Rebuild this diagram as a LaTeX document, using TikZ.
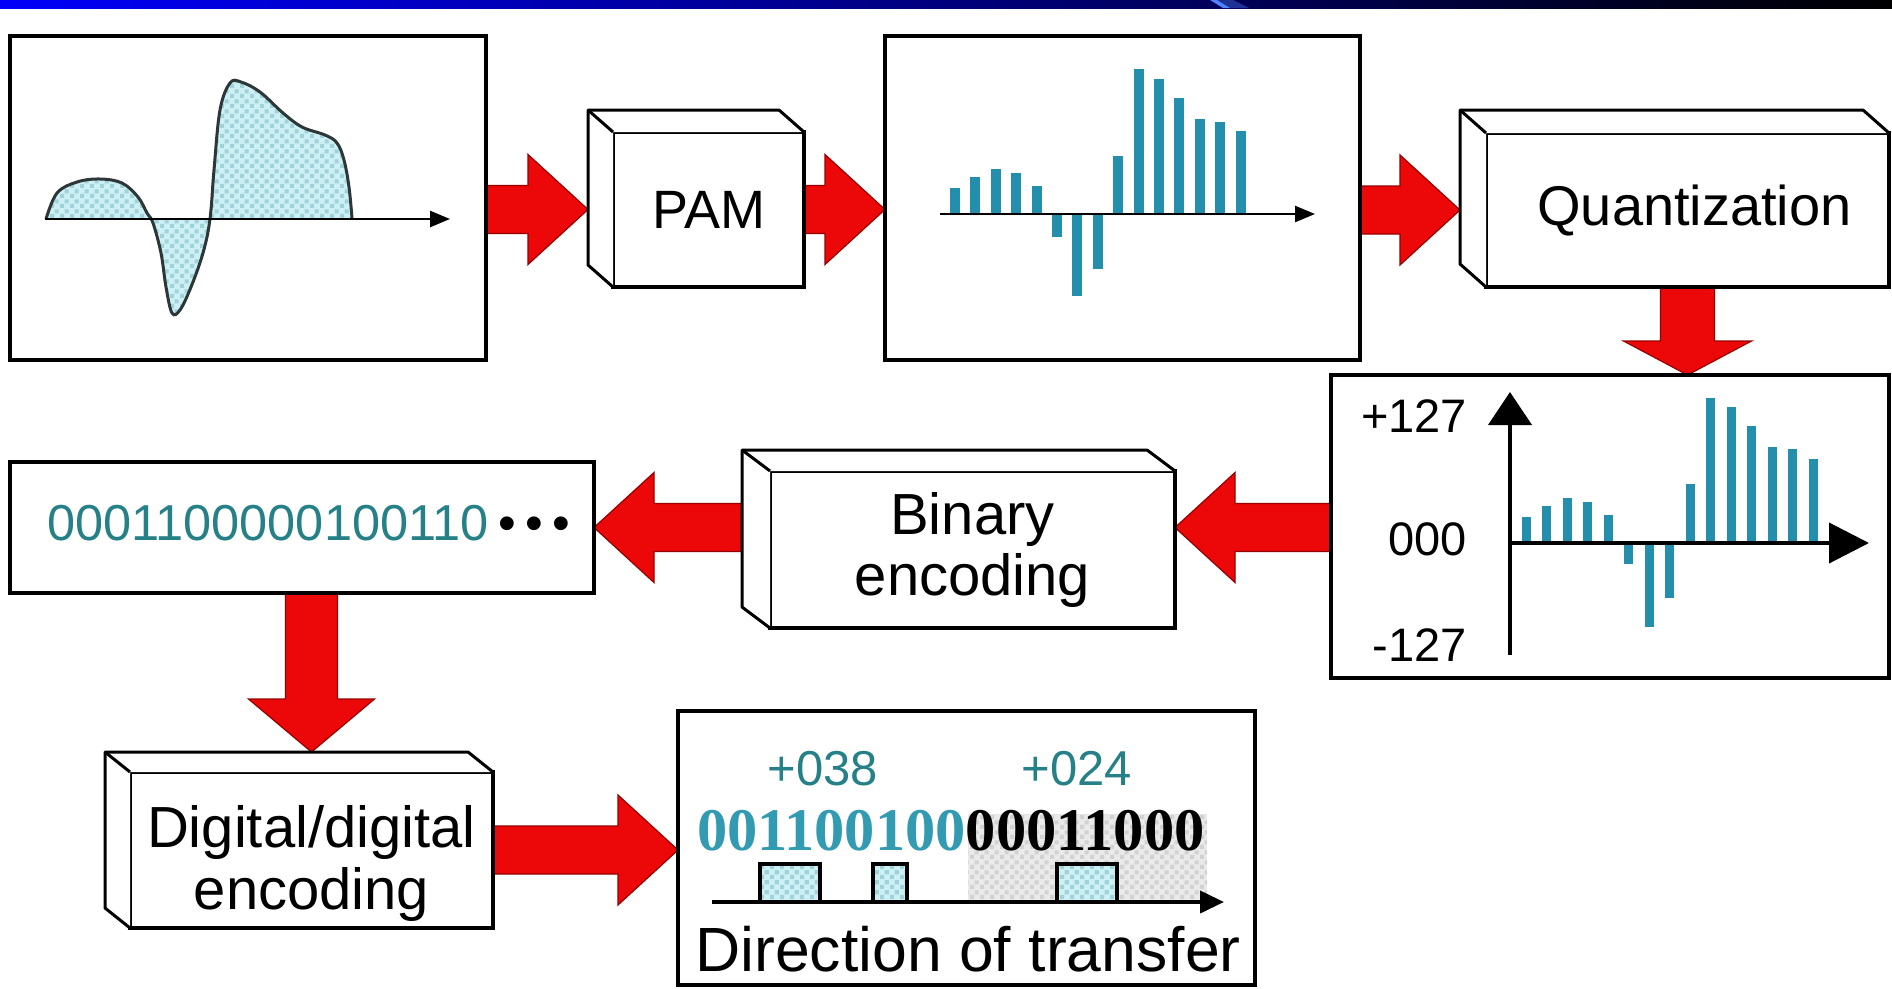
\documentclass[tikz,border=0pt]{standalone}
\usepackage{fontspec}
\setmainfont{Liberation Sans}
\newfontfamily\serifbold{Liberation Serif}
\usetikzlibrary{calc,patterns.meta,arrows.meta}

\definecolor{arrred}{RGB}{236,8,8}
\definecolor{arredge}{RGB}{150,0,0}
\definecolor{tealtxt}{RGB}{38,128,135}
\definecolor{barcol}{RGB}{35,143,172}
\definecolor{cyanlite}{RGB}{205,240,245}
\definecolor{cyandot}{RGB}{160,210,218}
\definecolor{graylite}{RGB}{234,234,234}
\definecolor{graydot}{RGB}{210,210,210}
\definecolor{bitteal}{RGB}{50,155,178}
\definecolor{wavecol}{RGB}{45,55,55}
\definecolor{barblue}{RGB}{0,0,250}
\definecolor{barmid}{RGB}{0,0,165}
\definecolor{streak}{RGB}{80,130,255}
\definecolor{streakdk}{RGB}{30,50,150}

\pgfdeclarelayer{bg}
\pgfsetlayers{bg,main}

\tikzdeclarepattern{
  name=chk,
  type=uncolored,
  bottom left={(0pt,0pt)},
  top right={(10pt,10pt)},
  tile size={(10pt,10pt)},
  code={
    \pgfpathrectangle{\pgfpointorigin}{\pgfpoint{4.5pt}{4.5pt}}
    \pgfpathrectangle{\pgfpoint{5pt}{5pt}}{\pgfpoint{4.5pt}{4.5pt}}
    \pgfusepath{fill}
  }
}

% horizontal block arrow: #1 start, #2 tip, #3 direction (1 right, -1 left)
\newcommand\sidearr[3]{%
  \path[redarrow] let \p1=#1, \p2=#2 in
    (\x1,\y2+24pt) -- ({\x2-(#3)*60pt},\y2+24pt) -- ({\x2-(#3)*60pt},\y2+55pt)
    -- (\x2,\y2) -- ({\x2-(#3)*60pt},\y2-55pt) -- ({\x2-(#3)*60pt},\y2-24pt)
    -- (\x1,\y2-24pt) -- cycle;}
% downward block arrow: #1 start, #2 tip, #3 shaft half, #4 head half, #5 head length
\newcommand\downarr[5]{%
  \path[redarrow] let \p1=#1, \p2=#2 in
    (\x2-#3pt,\y1) -- (\x2-#3pt,\y2+#5pt) -- (\x2-#4pt,\y2+#5pt) -- (\x2,\y2)
    -- (\x2+#4pt,\y2+#5pt) -- (\x2+#3pt,\y2+#5pt) -- (\x2+#3pt,\y1) -- cycle;}
% 3D depth faces of a box node: #1 node, #2 dx, #3 dy
\newcommand\boxdepth[3]{%
  \fill[white] (#1.south west) -- ++(#2,#3) -- ($(#1.north west)+(#2,#3)$)
    -- ($(#1.north east)+(#2,#3)$) -- (#1.north east) -- (#1.north west) -- cycle;
  \draw[faceline] (#1.south west) -- ++(#2,#3) -- ($(#1.north west)+(#2,#3)$)
    -- ($(#1.north east)+(#2,#3)$) -- (#1.north east);
  \draw[faceline] (#1.north west) -- ++(#2,#3);}

\begin{document}
\begin{tikzpicture}[x=1pt,y=-1pt,
  panel/.style={draw, line width=4.5pt, fill=white, outer sep=0pt, inner sep=0pt},
  face/.style={draw, line width=3.5pt, fill=white, outer sep=0pt, inner sep=0pt, align=center},
  faceline/.style={line width=3pt, line join=round},
  redarrow/.style={fill=arrred, draw=arredge, line width=1.2pt, line join=miter},
  dotfill/.style={preaction={fill=cyanlite}, pattern=chk, pattern color=cyandot},
  grayfill/.style={preaction={fill=graylite}, pattern=chk, pattern color=graydot},
  lbl/.style={inner sep=0pt, outer sep=0pt}
]
\useasboundingbox (0,0) rectangle (1892,988);

% ---------- panels and boxes ----------
\node[panel, minimum width=476pt, minimum height=324pt] (sig) at (248,198) {};
\node[face, minimum width=191pt, minimum height=155pt,
      font=\fontsize{54pt}{60pt}\selectfont] (pam) at (708.5,209.5) {PAM};
\node[panel, minimum width=475pt, minimum height=324pt] (samp) at (1122.5,198) {};
\node[face, minimum width=403pt, minimum height=154pt,
      font=\fontsize{56pt}{62pt}\selectfont] (quant) at (1687.5,210) {\hspace*{14pt}Quantization};
\node[panel, minimum width=558pt, minimum height=303pt] (qpanel) at (1610,526.5) {};
\node[face, minimum width=405pt, minimum height=157pt,
      font=\fontsize{58pt}{61pt}\selectfont] (bin) at (972.5,549.5) {Binary\\encoding};
\node[panel, minimum width=584pt, minimum height=131pt] (bits) at (302,527.5) {};
\node[face, minimum width=363pt, minimum height=156pt] (dig) at (311.5,850) {};
\node[lbl, align=center, font=\fontsize{58pt}{62pt}\selectfont] (digtxt)
      at ($(dig.center)+(0,13)$) {Digital/digital\\encoding};
\node[panel, minimum width=577pt, minimum height=274pt] (final) at (966.5,848) {};

\boxdepth{pam}{-25}{-22}
\boxdepth{quant}{-26}{-23}
\boxdepth{bin}{-28}{-21}
\boxdepth{dig}{-25}{-20}

% ---------- background layer: white page, title bar, block arrows ----------
\begin{pgfonlayer}{bg}
\fill[white] (0,0) rectangle (1892,988);
\shade[left color=barblue, middle color=barmid, right color=black] (0,0) rectangle (1892,8);
\fill[streakdk] (1217,0) -- (1233,0) -- (1249,8) -- (1230,8) -- cycle;
\fill[streak] (1210,0) -- (1217,0) -- (1230,8) -- (1223,8) -- cycle;

\sidearr{(sig.east)}{($(pam.west)+(-25,0)$)}{1}
\sidearr{(pam.east)}{(samp.west |- pam.center)}{1}
\sidearr{(samp.east)}{($(quant.west)+(-26,0)$)}{1}
\downarr{(quant.south)}{(qpanel.north -| quant.south)}{27}{64}{34}
\sidearr{(qpanel.west)}{(bin.east |- bits.east)}{-1}
\sidearr{($(bin.west)+(-28,0)$)}{(bits.east)}{-1}
\downarr{(bits.south)}{($(dig.north)+(0,-20)$)}{26}{63}{53}
\sidearr{(dig.east)}{(final.west |- dig.east)}{1}
\end{pgfonlayer}

% ---------- panel 1: analog signal ----------
\path[dotfill] plot[smooth, tension=0.6] coordinates {
  (46,219) (57,193) (77,182) (100,179) (122,183) (138,197) (147,213) (153,223)
  (161,253) (166,287) (172,313) (180,310) (191,287) (203,253) (210,219)
  (214,170) (220,110) (230,83) (241,82) (260,92) (283,113) (302,127)
  (325,135) (337,143) (344,160) (349,187) (352,218)} -- cycle;
\draw[wavecol, line width=3pt] plot[smooth, tension=0.6] coordinates {
  (46,219) (57,193) (77,182) (100,179) (122,183) (138,197) (147,213) (153,223)
  (161,253) (166,287) (172,313) (180,310) (191,287) (203,253) (210,219)
  (214,170) (220,110) (230,83) (241,82) (260,92) (283,113) (302,127)
  (325,135) (337,143) (344,160) (349,187) (352,218)};
\draw[line width=2.5pt, -{Triangle[length=20pt,width=16pt]}] (45,219) -- (450,219);

% ---------- panel 2: PAM samples ----------
\foreach \t [count=\i from 0] in {188,177,169,173,186,237,296,269,156,69,79,98,119,122,131}
  \fill[barcol] ({950+20.4*\i},214) rectangle ({960+20.4*\i},\t);
\draw[line width=2.5pt, -{Triangle[length=20pt,width=16pt]}] (940,214) -- (1315,214);

% ---------- panel 3: quantized samples ----------
\foreach \t [count=\i from 0] in {517,506,498,502,515,564,627,598,484,398,407,426,447,449,459}
  \fill[barcol] ({1521.5+20.5*\i},543) rectangle ({1530.5+20.5*\i},\t);
\draw[line width=4pt, -{Triangle[length=33pt,width=43pt]}] (1510,655) -- (1510,392);
\draw[line width=4pt, -{Triangle[length=40pt,width=40pt]}] (1510,543) -- (1869,543);
\node[lbl, anchor=base east, font=\fontsize{47pt}{50pt}\selectfont] (qhi) at (1467,432) {+127};
\node[lbl, anchor=base east, font=\fontsize{47pt}{50pt}\selectfont] (qmid) at (1467,555) {000};
\node[lbl, anchor=base east, font=\fontsize{47pt}{50pt}\selectfont] (qlo) at (1467,661) {-127};

% ---------- bit stream ----------
\node[lbl, anchor=base west, font=\fontsize{50.5pt}{52pt}\selectfont] (stream) at (47,540)
  {\textcolor{tealtxt}{0001100000100110}\hspace{10pt}•\hspace{9pt}•\hspace{9pt}•};

% ---------- final panel: line coding ----------
\fill[grayfill] (968,814) rectangle (1207,902);
\node[lbl, anchor=base, text=tealtxt, font=\fontsize{49pt}{50pt}\selectfont] (v38) at (823,785) {+038};
\node[lbl, anchor=base, text=tealtxt, font=\fontsize{49pt}{50pt}\selectfont] (v24) at (1077,785) {+024};
\node[lbl, anchor=base west, font=\serifbold\bfseries\fontsize{60.5pt}{61pt}\selectfont] (code) at (697,850)
  {\textcolor{bitteal}{001100100}00011000};
\draw[dotfill] (760,902) rectangle (820,864);
\draw[dotfill] (873,902) rectangle (907,864);
\draw[dotfill] (1057,902) rectangle (1117,864);
\draw[line width=4pt] (760,902) -- (760,864) -- (820,864) -- (820,902);
\draw[line width=4pt] (873,902) -- (873,864) -- (907,864) -- (907,902);
\draw[line width=4pt] (1057,902) -- (1057,864) -- (1117,864) -- (1117,902);
\draw[line width=4pt, -{Triangle[length=24pt,width=22pt]}] (712,902) -- (1224,902);
\node[lbl, anchor=base, font=\fontsize{62.5pt}{63pt}\selectfont] (dir) at (968,971) {Direction of transfer};
\end{tikzpicture}
\end{document}
